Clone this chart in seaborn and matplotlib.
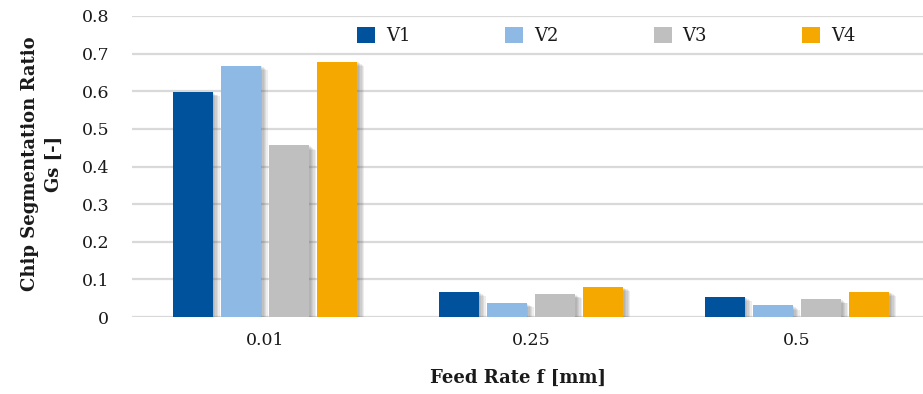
import matplotlib
matplotlib.use("Agg")
import matplotlib.pyplot as plt
import matplotlib.patheffects as pe
from matplotlib.patches import Patch
import seaborn as sns
import pandas as pd

categories = ["0.01", "0.25", "0.5"]
series = ["V1", "V2", "V3", "V4"]
v1 = [0.598, 0.067, 0.054]
v2 = [0.668, 0.037, 0.031]
v3 = [0.456, 0.061, 0.047]
v4 = [0.679, 0.080, 0.067]
colors = ["#00529C", "#8EB9E5", "#BFBFBF", "#F5A800"]
yticks = [0, 0.1, 0.2, 0.3, 0.4, 0.5, 0.6, 0.7, 0.8]
ytick_labels = ["0", "0.1", "0.2", "0.3", "0.4", "0.5", "0.6", "0.7", "0.8"]

rows = []
for name, vals in zip(series, [v1, v2, v3, v4]):
    for c, v in zip(categories, vals):
        rows.append({"Feed": c, "Series": name, "Gs": v})
df = pd.DataFrame(rows)

sns.set_style("white")
plt.rcParams["font.family"] = ["DejaVu Serif"]

W, H = 923, 394
fig = plt.figure(figsize=(W / 100, H / 100), dpi=100)
left, right = 132, 930
top, bottom = 16, 317
ax = fig.add_axes([left / W, 1 - bottom / H, (right - left) / W, (bottom - top) / H])

sns.barplot(data=df, x="Feed", y="Gs", hue="Series", order=categories,
            hue_order=series, palette=colors, width=0.726, gap=0.17,
            saturation=1, ax=ax, legend=False, zorder=3)

shadow = [pe.SimplePatchShadow(offset=(d, -d * 0.6), shadow_rgbFace="#505050", alpha=0.1)
          for d in (5, 4, 3, 2, 1)]
for p in ax.patches:
    p.set_linewidth(0)
    p.set_path_effects(shadow + [pe.Normal()])

ax.set_xlim(-0.5, 2.5)
ax.set_ylim(0, 0.8)
ax.set_yticks(yticks)
ax.set_yticklabels(ytick_labels)
ax.yaxis.grid(True, color="#D9D9D9", linewidth=1.6, zorder=0)
ax.set_axisbelow(True)
for s in ax.spines.values():
    s.set_visible(False)
ax.tick_params(axis="both", length=0, labelsize=12.5, colors="#1A1A1A")
ax.tick_params(axis="y", pad=16.5)
ax.tick_params(axis="x", pad=11)
ax.set_xlabel("")
ax.set_ylabel("")

fig.text(518 / W, 1 - 378 / H, "Feed Rate f [mm]", ha="center", va="center",
         fontsize=13, fontweight="bold", color="#1A1A1A")
fig.text(42 / W, 1 - 164 / H, "Chip Segmentation Ratio\nGs [-]", ha="center", va="center",
         rotation=90, fontsize=13, fontweight="bold", linespacing=1.45, color="#1A1A1A")

handles = [Patch(facecolor=c, edgecolor="none", label=s) for c, s in zip(colors, series)]
fig.legend(handles=handles, ncol=4, loc="center left",
           bbox_to_anchor=(357 / W, 1 - 36 / H), bbox_transform=fig.transFigure,
           frameon=False, fontsize=13, handlelength=1.0, handleheight=1.0,
           handletextpad=0.6, columnspacing=5.26, borderpad=0, borderaxespad=0,
           labelcolor="#1A1A1A")

fig.savefig("out.png", dpi=100)
